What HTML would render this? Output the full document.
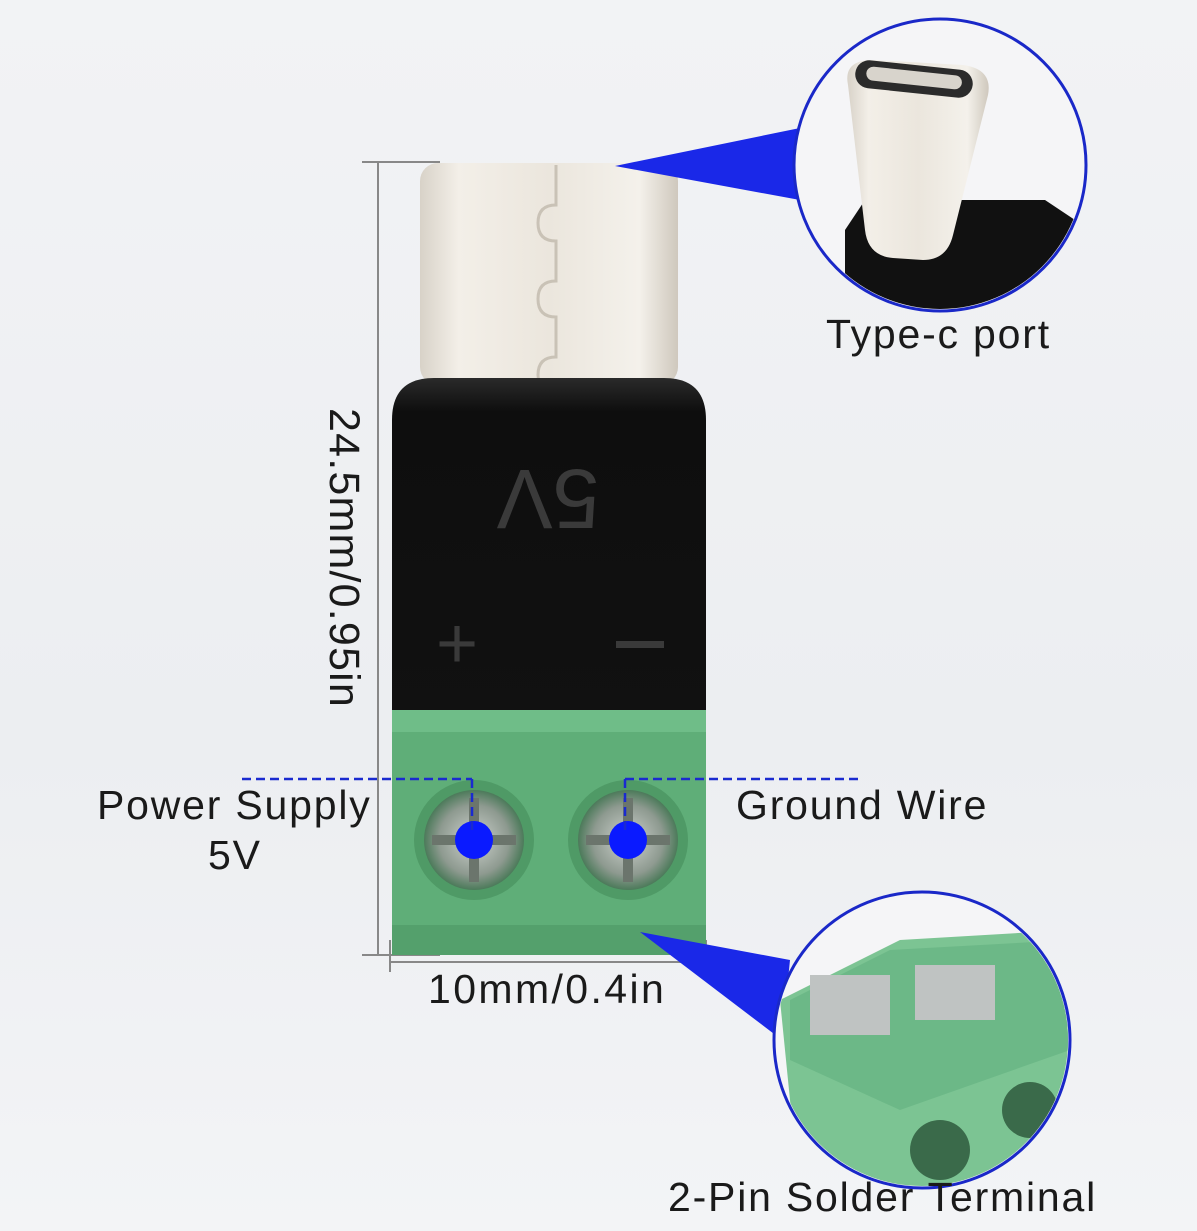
<!DOCTYPE html>
<html><head><meta charset="utf-8"><style>
html,body{margin:0;padding:0}
body{width:1197px;height:1231px;position:relative;overflow:hidden;background:linear-gradient(180deg,#f2f3f5 0%,#eceef1 60%,#f3f4f6 100%);font-family:"Liberation Sans",sans-serif}
.a{position:absolute}
.lbl{position:absolute;font-size:41px;line-height:48px;color:#1a1a1a;letter-spacing:1.8px;white-space:nowrap}
</style></head><body>
<svg class="a" style="left:0;top:0" width="1197" height="1231">
<defs>
<linearGradient id="metal" x1="0" x2="1"><stop offset="0" stop-color="#d8d2c8"/><stop offset=".15" stop-color="#f3efe8"/><stop offset=".5" stop-color="#ebe6dd"/><stop offset=".85" stop-color="#f4f1eb"/><stop offset="1" stop-color="#cfc8bd"/></linearGradient>
<linearGradient id="blk" x1="0" x2="0" y1="0" y2="1"><stop offset="0" stop-color="#2a2a2a"/><stop offset=".1" stop-color="#0e0e0e"/><stop offset="1" stop-color="#111"/></linearGradient>
<radialGradient id="scr"><stop offset="0" stop-color="#cfd3cf"/><stop offset=".7" stop-color="#8e9a90"/><stop offset="1" stop-color="#4c7a5a"/></radialGradient>
<clipPath id="c1"><circle cx="940" cy="165" r="144"/></clipPath>
<clipPath id="c2"><circle cx="922" cy="1040" r="146"/></clipPath>
</defs>
<g stroke="#888" stroke-width="2" fill="none">
<line x1="378" y1="162" x2="378" y2="955"/><line x1="362" y1="162" x2="440" y2="162"/><line x1="362" y1="955" x2="440" y2="955"/>
<line x1="390" y1="962" x2="706" y2="962"/><line x1="390" y1="940" x2="390" y2="972"/><line x1="706" y1="940" x2="706" y2="972"/>
</g>
<rect x="420" y="163" width="258" height="222" rx="18" fill="url(#metal)"/>
<path d="M556 165 v40 q-18 0 -18 18 q0 18 18 18 v40 q-18 0 -18 18 q0 18 18 18 v40 q-18 0 -18 18 q0 10 10 14" stroke="#c9c2b6" stroke-width="3" fill="none"/>
<path d="M392 420 q0-42 42-42 h230 q42 0 42 42 v295 h-314z" fill="url(#blk)"/>
<text x="548" y="530" transform="rotate(180 548 500)" font-size="84" fill="#3a3a3a" text-anchor="middle" font-family="Liberation Sans">5V</text>
<text x="457" y="668" font-size="72" fill="#3a3a3a" text-anchor="middle">+</text>
<rect x="616" y="641" width="48" height="7" fill="#3a3a3a"/>
<rect x="392" y="710" width="314" height="245" fill="#5fae78"/>
<rect x="392" y="710" width="314" height="22" fill="#6fbd88"/>
<rect x="392" y="925" width="314" height="30" fill="#54a06c"/>
<circle cx="474" cy="840" r="60" fill="#4f9a66"/><circle cx="474" cy="840" r="50" fill="url(#scr)"/>
<circle cx="628" cy="840" r="60" fill="#4f9a66"/><circle cx="628" cy="840" r="50" fill="url(#scr)"/>
<g stroke="#6b756c" stroke-width="10"><line x1="432" y1="840" x2="516" y2="840"/><line x1="474" y1="798" x2="474" y2="882"/><line x1="586" y1="840" x2="670" y2="840"/><line x1="628" y1="798" x2="628" y2="882"/></g>
<circle cx="474" cy="840" r="19" fill="#0a1aff"/><circle cx="628" cy="840" r="19" fill="#0a1aff"/>
<g stroke="#1a2ad0" stroke-width="2.5" stroke-dasharray="9,5" fill="none">
<line x1="242" y1="779" x2="472" y2="779"/><line x1="472" y1="779" x2="472" y2="832"/>
<line x1="625" y1="779" x2="858" y2="779"/><line x1="625" y1="779" x2="625" y2="832"/>
</g>
<polygon points="615,166 800,128 800,200" fill="#1a28e8"/>
<polygon points="640,932 790,960 782,1040" fill="#1a28e8"/>
<circle cx="940" cy="165" r="146" fill="#f5f5f7" stroke="#1a28c8" stroke-width="3"/>
<g clip-path="url(#c1)">
<path d="M845 230 l20 -30 h180 l30 20 v120 h-230z" fill="#111"/>
<path d="M848 85 q-5 -25 25 -25 l90 5 q30 4 25 30 l-35 140 q-6 25 -30 25 l-30 -2 q-25 -2 -28 -28z" fill="url(#metal)"/>
<rect x="855" y="65" width="118" height="28" rx="14" transform="rotate(6 914 79)" fill="#2b2b2b"/>
<rect x="866" y="71" width="96" height="14" rx="7" transform="rotate(6 914 79)" fill="#d8d4cc"/>
</g>
<circle cx="922" cy="1040" r="148" fill="#f5f5f7" stroke="#1a28c8" stroke-width="3"/>
<g clip-path="url(#c2)">
<polygon points="780,1000 900,940 1070,930 1070,1200 800,1200" fill="#7cc493"/>
<polygon points="790,1000 890,950 1070,940 1070,1050 900,1110 790,1060" fill="#6cb887"/>
<rect x="810" y="975" width="80" height="60" fill="#bfc3c2"/><rect x="915" y="965" width="80" height="55" fill="#bfc3c2"/>
<circle cx="940" cy="1150" r="30" fill="#3a6a4a"/><circle cx="1030" cy="1110" r="28" fill="#3a6a4a"/>
</g>
</svg>
<div class="lbl" style="left:320px;top:408px;writing-mode:vertical-rl;font-size:43px;letter-spacing:1.2px">24.5mm/0.95in</div>
<div class="lbl" style="left:428px;top:965px;font-size:41px;letter-spacing:2.4px">10mm/0.4in</div>
<div class="lbl" style="left:826px;top:310px">Type-c port</div>
<div class="lbl" style="left:97px;top:781px">Power Supply</div>
<div class="lbl" style="left:208px;top:831px">5V</div>
<div class="lbl" style="left:736px;top:781px">Ground Wire</div>
<div class="lbl" style="left:668px;top:1173px">2-Pin Solder Terminal</div>
</body></html>
